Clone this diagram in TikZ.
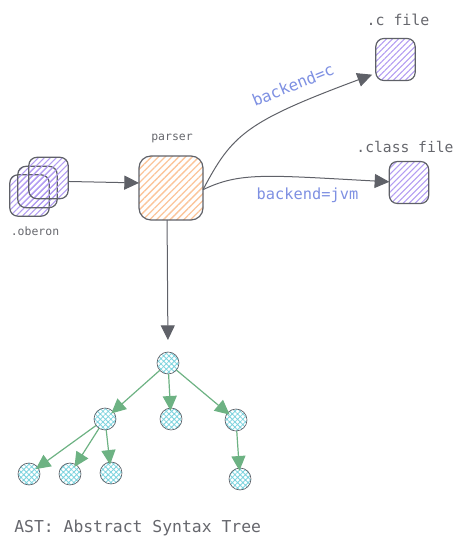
\documentclass[tikz,border=0pt]{standalone}
\usepackage{fontspec}
\setmonofont{DejaVu Sans Mono}
\usetikzlibrary{arrows.meta}
\usetikzlibrary{patterns.meta}
\definecolor{inkgray}{HTML}{5F6168}
\definecolor{textgray}{HTML}{66676D}
\definecolor{hachpurple}{HTML}{B29CF2}
\definecolor{hachorange}{HTML}{FBC59A}
\definecolor{hachteal}{HTML}{7DD3DE}
\definecolor{edgegreen}{HTML}{6DB283}
\definecolor{labelblue}{HTML}{7E90E2}
\tikzset{
  srcbox/.style={draw=inkgray,line width=.9pt,rounded corners=6pt,inner sep=0pt,outer sep=0pt,
    minimum width=29.5pt,minimum height=31.5pt,
    pattern={Lines[angle=45,distance=3.2pt,line width=.8pt]},pattern color=hachpurple},
  parserbox/.style={srcbox,minimum width=48pt,minimum height=48pt,rounded corners=9pt,
    pattern={Lines[angle=45,distance=3.6pt,line width=1pt]},pattern color=hachorange},
  astnode/.style={circle,draw=inkgray,line width=.5pt,inner sep=0pt,outer sep=0pt,minimum size=16.5pt,
    pattern={Hatch[angle=45,distance=2.8pt,line width=.6pt]},pattern color=hachteal},
  flow/.style={draw=inkgray,line width=.75pt,-{Triangle[length=11pt,width=10.5pt,fill=inkgray]}},
  astedge/.style={draw=edgegreen,line width=.9pt,shorten >=-2pt,-{Triangle[length=11pt,width=10.5pt,fill=edgegreen]}},
  caption/.style={font=\ttfamily,text=textgray,inner sep=0pt},
  backend/.style={font=\ttfamily,text=labelblue,inner sep=0pt},
}
\begin{document}
\begin{tikzpicture}[x=0.75pt,y=-0.75pt]
\useasboundingbox (0,0) rectangle (466,546);

\node[srcbox,minimum height=31pt] (oberonC) at (29.5,195.5) {};
\node[srcbox,minimum height=31pt] (oberonB) at (37.5,187) {};
\node[srcbox,minimum height=31pt] (oberonA) at (48.5,178) {};
\node[parserbox] (parser) at (171,188) {};
\node[srcbox] (cfile) at (395.5,59.5) {};
\node[srcbox] (classfile) at (409,182.5) {};

\node[astnode] (root) at (168,363) {};
\node[astnode] (left) at (105,419) {};
\node[astnode] (mid) at (171,419) {};
\node[astnode] (right) at (236,420) {};
\node[astnode] (leafA) at (29,474) {};
\node[astnode] (leafB) at (70,474) {};
\node[astnode] (leafC) at (111,473) {};
\node[astnode] (leafD) at (240,479) {};

\node[caption,font=\ttfamily\fontsize{8.6pt}{10pt}\selectfont] (oberonlabel) at (35,231) {.oberon};
\node[caption,font=\ttfamily\fontsize{8.6pt}{10pt}\selectfont] (parserlabel) at (172,138) {parser};
\node[caption,font=\ttfamily\fontsize{11.2pt}{13pt}\selectfont] (clabel) at (398,20) {.c file};
\node[caption,font=\ttfamily\fontsize{11pt}{13pt}\selectfont] (classlabel) at (405,147) {.class file};
\node[caption,anchor=west,font=\ttfamily\fontsize{12.3pt}{14pt}\selectfont] (astlabel) at (14,527.5) {AST: Abstract Syntax Tree};
\node[backend,rotate=22,font=\ttfamily\fontsize{12pt}{14pt}\selectfont] (backendc) at (293,85) {backend=c};
\node[backend,font=\ttfamily\fontsize{11.5pt}{14pt}\selectfont] (backendjvm) at (307.5,195) {backend=jvm};

\draw[flow] (oberonA.-10) -- (parser.171);
\draw[flow,shorten >=3pt] (parser.-3) .. controls (232,135) and (245,122) .. (cfile.215);
\draw[flow] (parser.-3) .. controls (240,172) and (265,175) .. (classfile.178);
\draw[flow,shorten >=9pt] (parser.263) -- (root.north);

\foreach \from/\to in {root/left,root/mid,root/right,left/leafA,left/leafB,left/leafC,right/leafD}{
  \draw[astedge] (\from) -- (\to);
}
\end{tikzpicture}
\end{document}
